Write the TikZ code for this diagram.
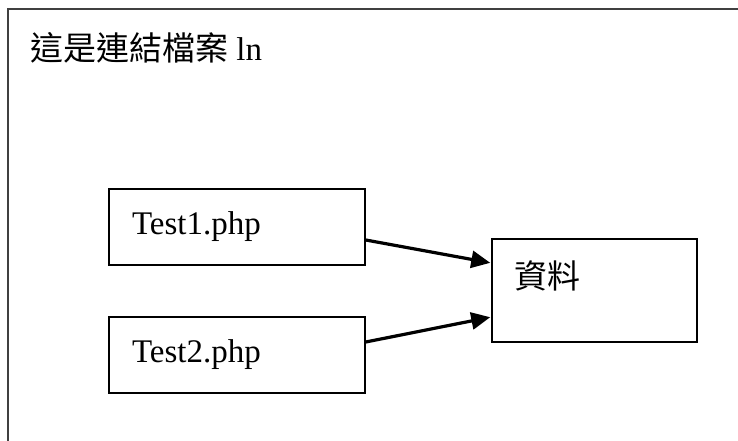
\documentclass[tikz,border=0pt]{standalone}
\usepackage{fontspec}
\setmainfont{Liberation Serif}
\newfontfamily\cjk{Noto Sans CJK TC}
\usetikzlibrary{arrows.meta}

\begin{document}
\begin{tikzpicture}[x=1pt, y=-1pt, font=\fontsize{33}{38}\selectfont,
    filebox/.style={draw=black, line width=1.5pt, rectangle, minimum width=256pt,
      minimum height=76pt, text width=210pt, inner xsep=23pt, align=left},
    databox/.style={draw=black, line width=1.5pt, rectangle, minimum width=205pt,
      minimum height=103pt, inner sep=0pt},
    link/.style={-{Triangle[length=19pt,width=17pt]}, line width=3.2pt, shorten >=1pt}]
   \useasboundingbox (0,0) rectangle (738,441);
   % outer frame, cut off on the right and at the bottom
   \coordinate (fbl) at (8,441);
   \coordinate (ftl) at (8,9);
   \coordinate (ftr) at (738,9);
   \draw[black!75, line width=2pt] (fbl) -- (ftl) -- (ftr);
   \node[anchor=west, inner sep=0pt] (title) at (30,48) {{\cjk 這是連結檔案} ln};
   \begin{scope}
    \node[filebox] (t1) at (237,227) {Test1.php};
    \node[filebox] (t2) at (237,355) {Test2.php};
    \node[databox] (data) at (594.5,290.5) {};
    \node[anchor=west, inner sep=0pt, font=\cjk\fontsize{33}{38}\selectfont] (datatext)
      at ([xshift=23pt, yshift=-38pt]data.north west) {資料};
   \end{scope}
   \begin{scope}
    \draw[link] ([yshift=-13pt]t1.east) -- ([yshift=27.5pt]data.west);
    \draw[link] ([yshift=13pt]t2.east) -- ([yshift=-26.5pt]data.west);
   \end{scope}
\end{tikzpicture}
\end{document}
